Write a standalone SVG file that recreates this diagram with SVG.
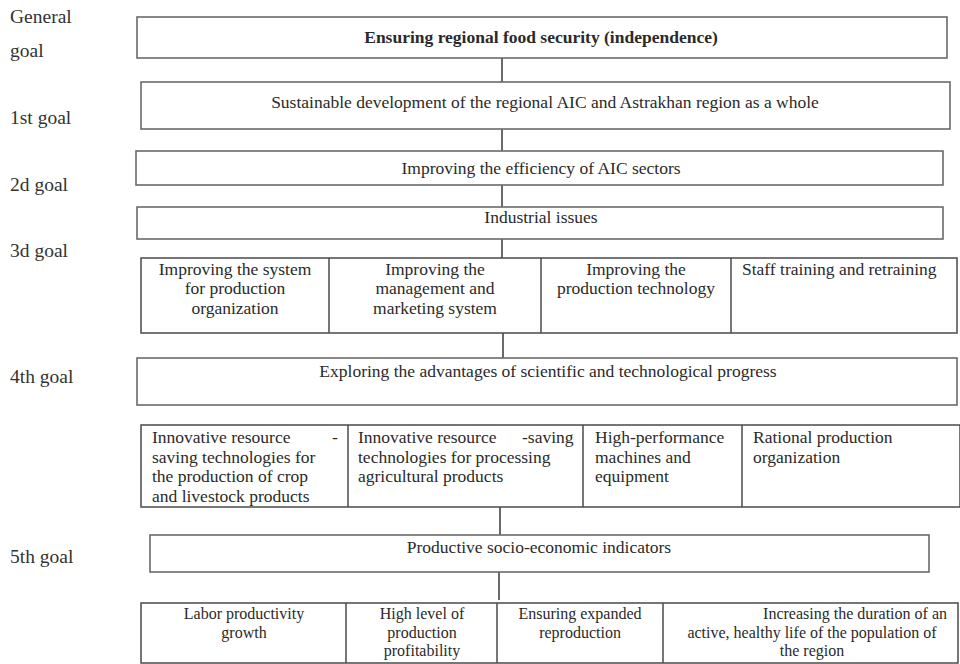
<svg xmlns="http://www.w3.org/2000/svg" width="960" height="664" viewBox="0 0 960 664">
<style>
text{font-family:"Liberation Serif","Times New Roman",serif;font-size:17.5px;fill:#2a2a2a}
.lbl{font-size:19.5px;fill:#333}
.b{font-weight:bold}
.c{text-anchor:middle}
.e{text-anchor:end}
.sm{font-size:16px}
.box{fill:#fff;stroke:#6a6a6a;stroke-width:1.6}
.tbl{fill:#fff;stroke:#4a4a4a;stroke-width:1.5}
.div{stroke:#4a4a4a;stroke-width:1.5}
.con{stroke:#5a5a5a;stroke-width:1.8;fill:none}
</style>
<rect width="960" height="664" fill="#fff"/>
<g id="labels">
<text class="lbl" x="10" y="23">General</text>
<text class="lbl" x="10" y="57">goal</text>
<text class="lbl" x="10" y="124">1st goal</text>
<text class="lbl" x="10" y="191">2d goal</text>
<text class="lbl" x="10" y="257">3d goal</text>
<text class="lbl" x="10" y="383">4th goal</text>
<text class="lbl" x="10" y="563">5th goal</text>
</g>
<g id="connectors">
<line class="con" x1="502" y1="58" x2="502" y2="82"/>
<line class="con" x1="502" y1="129" x2="502" y2="151"/>
<line class="con" x1="502" y1="185" x2="502" y2="207"/>
<line class="con" x1="502" y1="239" x2="502" y2="258"/>
<line class="con" x1="503" y1="333" x2="503" y2="358"/>
<line class="con" x1="500" y1="507" x2="500" y2="535"/>
<line class="con" x1="499" y1="572" x2="499" y2="600"/>
</g>
<g id="general-goal">
<rect class="box" x="137" y="17" width="810" height="41"/>
<text class="b c" x="541" y="43">Ensuring regional food security (independence)</text>
</g>
<g id="goal-1">
<rect class="box" x="141" y="82" width="809" height="47"/>
<text class="c" x="545" y="108">Sustainable development of the regional AIC and Astrakhan region as a whole</text>
</g>
<g id="goal-2">
<rect class="box" x="136" y="151" width="807" height="34"/>
<text class="c" x="541" y="174">Improving the efficiency of AIC sectors</text>
</g>
<g id="industrial-issues">
<rect class="box" x="137" y="207" width="806" height="32"/>
<text class="c" x="541" y="223">Industrial issues</text>
</g>
<g id="goal-3-row">
<rect class="tbl" x="141" y="258" width="816" height="75"/>
<line class="div" x1="329" y1="258" x2="329" y2="333"/>
<line class="div" x1="541" y1="258" x2="541" y2="333"/>
<line class="div" x1="731" y1="258" x2="731" y2="333"/>
<text class="c" x="235" y="275">Improving the system</text>
<text class="c" x="235" y="294">for production</text>
<text class="c" x="235" y="314">organization</text>
<text class="c" x="435" y="275">Improving the</text>
<text class="c" x="435" y="294">management and</text>
<text class="c" x="435" y="314">marketing system</text>
<text class="c" x="636" y="275">Improving the</text>
<text class="c" x="636" y="294">production technology</text>
<text x="742" y="275">Staff training and retraining</text>
</g>
<g id="goal-4">
<rect class="box" x="137" y="358" width="820" height="47"/>
<text class="c" x="548" y="377">Exploring the advantages of scientific and technological progress</text>
</g>
<g id="goal-4-row">
<rect class="tbl" x="141" y="425" width="819" height="82"/>
<line class="div" x1="348" y1="425" x2="348" y2="507"/>
<line class="div" x1="583" y1="425" x2="583" y2="507"/>
<line class="div" x1="742" y1="425" x2="742" y2="507"/>
<text y="443"><tspan x="152">Innovative resource</tspan><tspan x="332">-</tspan></text>
<text x="152" y="462.5">saving technologies for</text>
<text x="152" y="482">the production of crop</text>
<text x="152" y="501.5">and livestock products</text>
<text y="443"><tspan x="358">Innovative resource</tspan><tspan x="522">-saving</tspan></text>
<text x="358" y="462.5">technologies for processing</text>
<text x="358" y="482">agricultural products</text>
<text x="595" y="443">High-performance</text>
<text x="595" y="462.5">machines and</text>
<text x="595" y="482">equipment</text>
<text x="753" y="443">Rational production</text>
<text x="753" y="462.5">organization</text>
</g>
<g id="goal-5">
<rect class="box" x="150" y="535" width="779" height="37"/>
<text class="c" x="539" y="553">Productive socio-economic indicators</text>
</g>
<g id="goal-5-row">
<rect class="tbl" x="141" y="603" width="817" height="60"/>
<line class="div" x1="346" y1="603" x2="346" y2="663"/>
<line class="div" x1="497" y1="603" x2="497" y2="663"/>
<line class="div" x1="663" y1="603" x2="663" y2="663"/>
<text class="c sm" x="244" y="619">Labor productivity</text>
<text class="c sm" x="244" y="637.5">growth</text>
<text class="c sm" x="422" y="619">High level of</text>
<text class="c sm" x="422" y="637.5">production</text>
<text class="c sm" x="422" y="656">profitability</text>
<text class="c sm" x="580" y="619">Ensuring expanded</text>
<text class="c sm" x="580" y="637.5">reproduction</text>
<text class="e sm" x="947" y="619">Increasing the duration of an</text>
<text class="c sm" x="812" y="637.5">active, healthy life of the population of</text>
<text class="c sm" x="812" y="656">the region</text>
</g>
</svg>
